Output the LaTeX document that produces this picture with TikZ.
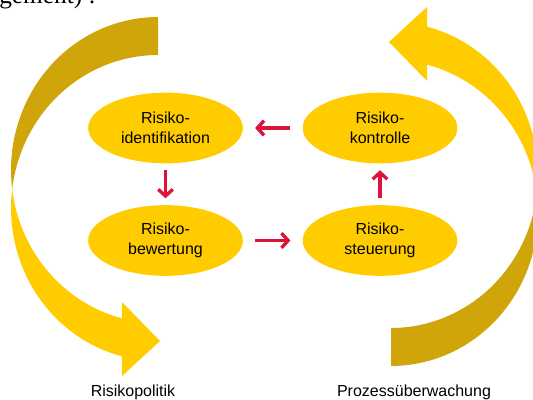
\documentclass[tikz,border=0pt]{standalone}
\usepackage{fontspec}
\setmainfont{Liberation Sans}
\newfontfamily\cutserif{Liberation Serif}
\usetikzlibrary{arrows.meta, shapes.geometric}
\usepackage{xcolor}
\definecolor{gold}{RGB}{207,165,10}
\definecolor{sunny}{RGB}{255,204,0}
\definecolor{crimson}{RGB}{220,20,60}

\begin{document}
\begin{tikzpicture}[x=0.75pt, y=-0.75pt, font=\fontsize{12}{15}\selectfont]
    \tikzstyle{stage}=[ellipse, fill=sunny, minimum width=116pt, minimum height=53pt, inner sep=0pt, align=center]
    \tikzstyle{flow}=[draw=crimson, line width=2.5pt, -{Straight Barb[length=5pt,width=11pt]}, shorten <=5pt, shorten >=5pt]
    \useasboundingbox (0,0) rectangle (533,400);

    % last line of the text above, cut by the page
    \node[anchor=base west, font=\cutserif\fontsize{19}{22}\selectfont, inner sep=0pt] (cut) at (-1,3) {gement) :};

    % Draw the two curved arrows: dark back side, yellow front side
    \foreach \turn in {0,180}{
      \begin{scope}[rotate around={\turn:(274.5,191.5)}]
        \fill[gold] plot[domain=270:172.87, samples=40] ({158+147*cos(\x)}, {170+153*sin(\x)})
            -- plot[domain=187.13:270, samples=40] ({158+147*cos(\x)}, {208+153*sin(\x)}) -- cycle;
        \fill[sunny] plot[domain=187.13:104.18, samples=40] ({158+147*cos(\x)}, {208+153*sin(\x)})
            -- (122,376) -- (160,341) -- (122,302)
            -- plot[domain=104.18:172.87, samples=30] ({158+147*cos(\x)}, {170+153*sin(\x)}) -- cycle;
      \end{scope}
    }

    % Draw the four stages
    \foreach \name / \x / \y / \txt in {1/165.5/128/{Risiko-\\identifikation}, 2/165.5/240.5/{Risiko-\\bewertung},
                                        3/380/240.5/{Risiko-\\steuerung}, 4/380/128/{Risiko-\\kontrolle}}
        \node[stage] (R-\name) at (\x,\y) {\txt};

    % the cycle
    \draw[flow] (R-1) -- (R-2);
    \draw[flow, shorten <=9pt, shorten >=9pt] (R-2) -- (R-3);
    \draw[flow] (R-3) -- (R-4);
    \draw[flow, shorten <=9pt, shorten >=9pt] (R-4) -- (R-1);

    \node (politik) at (133,392) {Risikopolitik};
    \node (ueberwachung) at (414,392) {Prozessüberwachung};
\end{tikzpicture}
\end{document}
